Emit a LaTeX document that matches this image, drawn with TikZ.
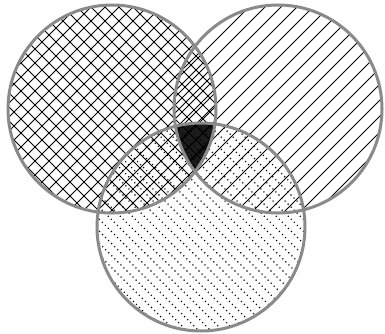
\documentclass[tikz,border=0pt]{standalone}
\usetikzlibrary{calc}
\definecolor{ringGray}{HTML}{8A8A8A}
\definecolor{coreDark}{HTML}{1C1C1C}

\begin{document}
\begin{tikzpicture}[x=1pt, y=-1pt,
    ring/.style={draw=ringGray, line width=3pt},
    hatch/.style={black, line width=0.9pt},
    dotline/.style={black, line width=1.1pt, dash pattern=on 1.1pt off 3.2pt},
  ]
  \useasboundingbox (0,0) rectangle (385,333);
  \coordinate (cl) at (112,109);
  \coordinate (cr) at (278,109);
  \coordinate (cb) at (201,227);
  \def\rad{104pt}

  % common part of all three
  \begin{scope}
    \clip (cl) circle (\rad);
    \clip (cr) circle (\rad);
    \fill[coreDark] (cb) circle (\rad);
  \end{scope}

  % left set: crosshatch
  \begin{scope}
    \clip (cl) circle (\rad);
    \foreach \k in {-25,...,53} {
      \draw[hatch] (\k*14,0) -- ++(333,333);
      \draw[hatch] (\k*14,0) -- ++(-333,333);
    }
  \end{scope}

  % right set: north east lines
  \begin{scope}
    \clip (cr) circle (\rad);
    \foreach \k in {0,...,47}
      \draw[hatch] (\k*16,0) -- ++(-333,333);
  \end{scope}

  % bottom set: dotted lines
  \begin{scope}
    \clip (cb) circle (\rad);
    \foreach \k in {-29,...,33}
      \draw[dotline] (\k*12,0) -- ++(333,333);
  \end{scope}

  \draw[ring] (cl) circle (\rad);
  \draw[ring] (cr) circle (\rad);
  \draw[ring] (cb) circle (\rad);
\end{tikzpicture}
\end{document}
